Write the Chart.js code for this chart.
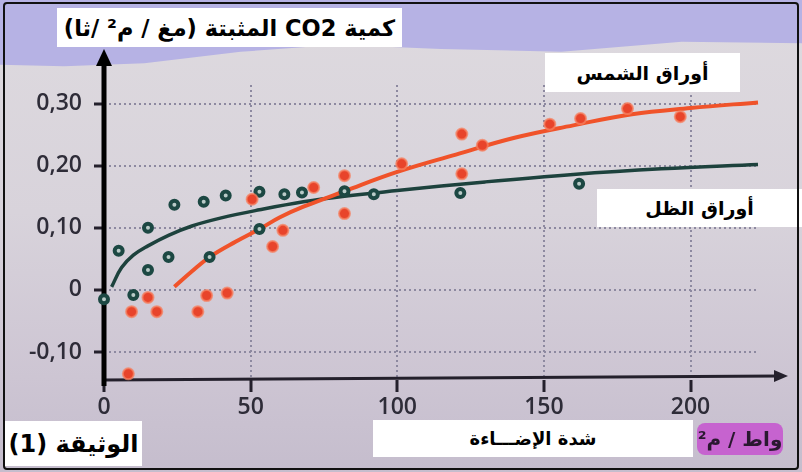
<!DOCTYPE html>
<html lang="ar">
<head>
<meta charset="utf-8">
<script src="https://cdn.jsdelivr.net/npm/chart.js@4.4.1/dist/chart.umd.min.js"></script>
<style>
  html, body { margin: 0; padding: 0; }
  #page {
    position: relative; width: 802px; height: 472px; overflow: hidden;
    background: linear-gradient(180deg, #dedadf 0%, #d8d3db 45%, #cdc5d3 80%, #c5bdcd 100%);
  }
  #band {
    position: absolute; left: 0; top: 0; width: 802px; height: 72px;
    background: #b6b2e4;
    clip-path: polygon(0 0, 100% 0, 100% 60%, 85% 58%, 70% 72%, 55% 68%, 42% 62%, 30% 72%, 18% 88%, 8% 92%, 0 90%);
  }
  #frame {
    position: absolute; left: 3px; top: 2px; width: 792px; height: 464px;
    border: 2px solid #111; border-radius: 4px; pointer-events: none;
  }
  canvas { position: absolute; left: 0; top: 0; }
  .box {
    position: absolute; background: #fff; color: #000; direction: rtl;
    font-family: "DejaVu Sans", sans-serif; font-weight: bold;
    display: flex; align-items: center; justify-content: center; white-space: nowrap;
  }
</style>
</head>
<body>
<div id="page">
  <div id="band"></div>
  <canvas id="myChart" width="802" height="472"></canvas>
  <div class="box" style="left:57px;top:8px;width:345px;height:39px;font-size:22.5px;">كمية CO2 المثبتة (مغ / م² /ثا)</div>
  <div class="box" style="left:545px;top:53px;width:195px;height:39px;font-size:19px;">أوراق الشمس</div>
  <div class="box" style="left:597px;top:189px;width:205px;height:38px;font-size:19px;">أوراق الظل</div>
  <div class="box" style="left:5px;top:421px;width:137px;height:45px;font-size:24px;">الوثيقة (1)</div>
  <div class="box" style="left:373px;top:420px;width:320px;height:37px;font-size:18px;">شدة الإضـــاءة</div>
  <div class="box" style="left:697px;top:423px;width:86px;height:32px;font-size:20px;background:#c663cf;color:#2a1830;border-radius:8px;">واط / م²</div>
  <div id="frame"></div>
</div>
<script>
// Données
const sunX = [8.3, 9.4, 15, 18, 32, 35, 42, 50.5, 57.5, 61, 71.5, 82, 82, 101.5, 122, 122, 129, 152, 162.5, 178.5, 196.5];
const sunY = [-0.135, -0.035, -0.012, -0.035, -0.035, -0.009, -0.005, 0.146, 0.07, 0.096, 0.165, 0.184, 0.123, 0.203, 0.251, 0.187, 0.233, 0.267, 0.276, 0.292, 0.279];

const shadeX = [0, 5, 10, 15, 15, 22, 24, 34, 36, 41.5, 53, 53, 61.5, 67.5, 82, 92, 121.5, 162];
const shadeY = [-0.015, 0.063, -0.008, 0.10, 0.032, 0.053, 0.137, 0.142, 0.053, 0.152, 0.158, 0.098, 0.154, 0.157, 0.159, 0.154, 0.156, 0.171];

const sunCurveX = [24, 30, 36, 45, 53, 60, 68, 82, 100, 120, 140, 160, 180, 200, 223];
const sunCurveY = [0.005, 0.03, 0.053, 0.078, 0.098, 0.117, 0.134, 0.159, 0.19, 0.218, 0.245, 0.265, 0.283, 0.293, 0.302];

const shadeCurveX = [2.6, 6, 10, 15, 22, 30, 40, 53, 68, 82, 100, 130, 160, 190, 223];
const shadeCurveY = [0.005, 0.036, 0.056, 0.071, 0.088, 0.103, 0.116, 0.129, 0.142, 0.151, 0.16, 0.174, 0.186, 0.195, 0.202];

const xTicks = [0, 50, 100, 150, 200];
const xTickLabels = ['0', '50', '100', '150', '200'];
const yTicks = [-0.1, 0, 0.1, 0.2, 0.3];
const yTickLabels = ['-0,10', '0', '0,10', '0,20', '0,30'];

const toPoints = (xs, ys) => xs.map((x, i) => ({ x: x, y: ys[i] }));

// Axes fléchés dessinés sous les points
const axesArrows = {
    id: 'axesArrows',
    beforeDatasetsDraw(chart) {
        const { ctx, chartArea } = chart;
        const x0 = chart.scales.x.getPixelForValue(0);
        ctx.save();
        // axe des x
        ctx.strokeStyle = '#24202c';
        ctx.fillStyle = '#24202c';
        ctx.lineWidth = 3;
        ctx.beginPath();
        ctx.moveTo(x0, chartArea.bottom);
        ctx.lineTo(780, chartArea.bottom - 4);
        ctx.stroke();
        ctx.beginPath();
        ctx.moveTo(788, chartArea.bottom - 4);
        ctx.lineTo(774, chartArea.bottom - 10);
        ctx.lineTo(774, chartArea.bottom + 2);
        ctx.closePath();
        ctx.fill();
        // axe des y
        ctx.strokeStyle = '#000';
        ctx.fillStyle = '#000';
        ctx.lineWidth = 5;
        ctx.beginPath();
        ctx.moveTo(x0, chartArea.bottom + 6);
        ctx.lineTo(x0, 62);
        ctx.stroke();
        ctx.beginPath();
        ctx.moveTo(x0, 49);
        ctx.lineTo(x0 - 8, 66);
        ctx.lineTo(x0 + 8, 66);
        ctx.closePath();
        ctx.fill();
        ctx.restore();
    }
};

const ctx = document.getElementById('myChart').getContext('2d');
const myChart = new Chart(ctx, {
    type: 'scatter',
    data: {
        datasets: [
            {
                label: 'أوراق الشمس',
                data: toPoints(sunX, sunY),
                backgroundColor: '#e8442b',
                borderColor: 'rgba(246, 128, 96, 0.75)',
                borderWidth: 2,
                pointRadius: 5.5,
                clip: false,
                order: 0
            },
            {
                label: 'أوراق الظل',
                data: toPoints(shadeX, shadeY),
                backgroundColor: '#b9cbc8',
                borderColor: '#1c4843',
                borderWidth: 4,
                pointRadius: 4,
                clip: false,
                order: 0
            },
            {
                type: 'line',
                data: toPoints(sunCurveX, sunCurveY),
                borderColor: '#f0532a',
                borderWidth: 4,
                pointRadius: 0,
                tension: 0.4,
                fill: false,
                clip: false,
                order: 1
            },
            {
                type: 'line',
                data: toPoints(shadeCurveX, shadeCurveY),
                borderColor: '#1d423d',
                borderWidth: 3.5,
                pointRadius: 0,
                tension: 0.4,
                fill: false,
                clip: false,
                order: 1
            }
        ]
    },
    options: {
        responsive: false,
        animation: false,
        events: [],
        layout: { padding: { top: 85, right: 44, bottom: 0, left: 0 } },
        plugins: {
            legend: { display: false },
            tooltip: { enabled: false }
        },
        scales: {
            x: {
                type: 'linear',
                min: 0,
                max: 223,
                afterBuildTicks: scale => { scale.ticks = xTicks.map(v => ({ value: v })); },
                afterFit: scale => { scale.height = 92; },
                ticks: {
                    callback: (value, index) => xTickLabels[index],
                    padding: 2,
                    maxRotation: 0,
                    color: '#2e2c38',
                    font: { family: 'Open Sans', size: 23, weight: '600' }
                },
                grid: {
                    color: '#8d89a0',
                    lineWidth: 2,
                    tickLength: 12,
                    tickColor: '#24202c',
                    tickWidth: 3,
                    tickBorderDash: []
                },
                border: { display: false, dash: [2, 3] }
            },
            y: {
                type: 'linear',
                min: -0.145,
                max: 0.33,
                afterBuildTicks: scale => { scale.ticks = yTicks.map(v => ({ value: v })); },
                afterFit: scale => { scale.width = 104; },
                ticks: {
                    callback: (value, index) => yTickLabels[index],
                    padding: 12,
                    color: '#2e2c38',
                    font: { family: 'Open Sans', size: 23, weight: '600' }
                },
                grid: {
                    color: '#8d89a0',
                    lineWidth: 2,
                    tickLength: 10,
                    tickColor: '#24202c',
                    tickWidth: 3,
                    tickBorderDash: []
                },
                border: { display: false, dash: [2, 3] }
            }
        }
    },
    plugins: [axesArrows]
});
</script>
</body>
</html>
